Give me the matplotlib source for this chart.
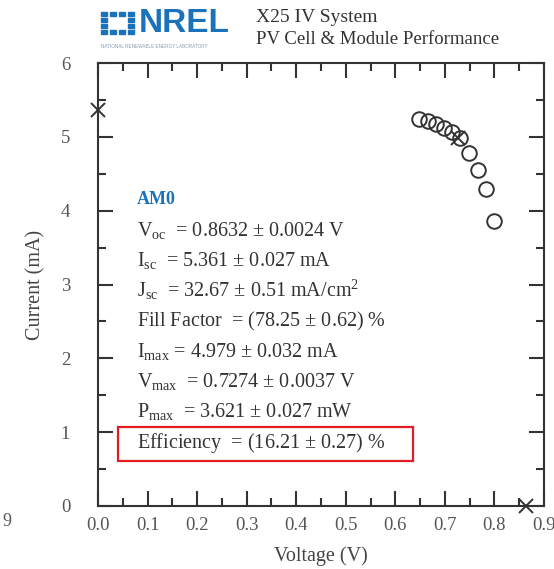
import matplotlib.pyplot as plt
from matplotlib.patches import Rectangle
from matplotlib.ticker import MultipleLocator, FormatStrFormatter

plt.rcParams['font.family'] = ['Liberation Serif', 'DejaVu Serif']
plt.rcParams['mathtext.fontset'] = 'custom'
plt.rcParams['mathtext.rm'] = 'Liberation Serif'
plt.rcParams['mathtext.it'] = 'Liberation Serif:italic'

# measured I-V points (V, mA)
voltage = [0.648, 0.665, 0.682, 0.699, 0.715, 0.730, 0.749, 0.766, 0.783, 0.799]
current = [5.24, 5.21, 5.17, 5.12, 5.06, 4.98, 4.78, 4.55, 4.30, 3.86]

# key points: Isc, Voc, Pmax
key_v = [0.0, 0.8632, 0.7274]
key_i = [5.361, 0.0, 4.979]

header = ['X25 IV System', 'PV Cell & Module Performance']
spectrum = 'AM0'
results = [
    r'V$_{\rm oc}$  = 0.8632 $\pm$ 0.0024 V',
    r'I$_{\rm sc}$  = 5.361 $\pm$ 0.027 mA',
    r'J$_{\rm sc}$  = 32.67 $\pm$ 0.51 mA/cm$^{2}$',
    r'Fill Factor  = (78.25 $\pm$ 0.62) %',
    r'I$_{\rm max}$ = 4.979 $\pm$ 0.032 mA',
    r'V$_{\rm max}$  = 0.7274 $\pm$ 0.0037 V',
    r'P$_{\rm max}$  = 3.621 $\pm$ 0.027 mW',
    r'Efficiency  = (16.21 $\pm$ 0.27) %',
]

dark = '#333333'
blue = '#1a72bb'

fig = plt.figure(figsize=(5.54, 5.69), dpi=100)
ax = fig.add_axes([98/554, 63/569, 446/554, 443/569])

ax.plot(voltage, current, 'o', ms=10.5, mfc='none', mec=dark, mew=1.4)
ax.plot(key_v, key_i, 'x', ms=10, color=dark, mew=1.4, clip_on=False, zorder=5)

ax.set_xlim(0, 0.9)
ax.set_ylim(0, 6)
ax.xaxis.set_major_locator(MultipleLocator(0.1))
ax.xaxis.set_minor_locator(MultipleLocator(0.05))
ax.yaxis.set_major_locator(MultipleLocator(1))
ax.yaxis.set_minor_locator(MultipleLocator(0.5))
ax.xaxis.set_major_formatter(FormatStrFormatter('%.1f'))
ax.tick_params(which='both', direction='in', top=True, right=True, color=dark, width=1.5,
               labelsize=13.5, labelcolor='#555555')
ax.tick_params(which='major', length=11)
ax.tick_params(which='minor', length=5.5)
ax.tick_params(axis='y', pad=20)
ax.tick_params(axis='x', pad=8)
for s in ax.spines.values():
    s.set_linewidth(1.5)
    s.set_color(dark)

ax.set_xlabel('Voltage (V)', fontsize=14.5, color='#444444', labelpad=9)
ax.set_ylabel('Current (mA)', fontsize=14.5, color='#444444', labelpad=11)

# results block
x0 = 0.079
y0 = 4.09
step = 0.41
ax.text(x0, y0, spectrum, fontsize=13, fontweight='bold', color=blue, va='baseline')
for k, line in enumerate(results):
    ax.text(x0, y0 - step * (k + 1.05), line, fontsize=14.5, color=dark, va='baseline')

ax.add_patch(Rectangle((0.040, 0.61), 0.596, 0.46, fill=False, ec='#e31b23', lw=1.6,
                       zorder=6))

# header
fig.text(256/554, 1 - 18/569, header[0], fontsize=14, color=dark, va='center')
fig.text(256/554, 1 - 40/569, header[1], fontsize=13.5, color=dark, va='center')

# NREL logo
fig.text(139/554, 1 - 24/569, 'NREL', fontsize=24, fontweight='bold', color=blue,
         family='Liberation Sans', va='center')
for r in range(4):
    for c in range(4):
        if (r in (1, 2)) and (c in (1, 2)):
            continue
        fig.patches.append(Rectangle(((101 + c * 9) / 554, 1 - (16 + r * 6) / 569),
                                     6/554, 4/569, color=blue,
                                     transform=fig.transFigure, figure=fig))
fig.text(101/554, 1 - 46/569, 'NATIONAL RENEWABLE ENERGY LABORATORY', fontsize=3.3,
         color='#8a9bb0', family='Liberation Sans', va='center')

# clipped neighbour label
fig.text(2/554, 1 - 521/569, '9', fontsize=13, color='#555555', va='center')

fig.savefig('out.png', dpi=100, facecolor='white')
